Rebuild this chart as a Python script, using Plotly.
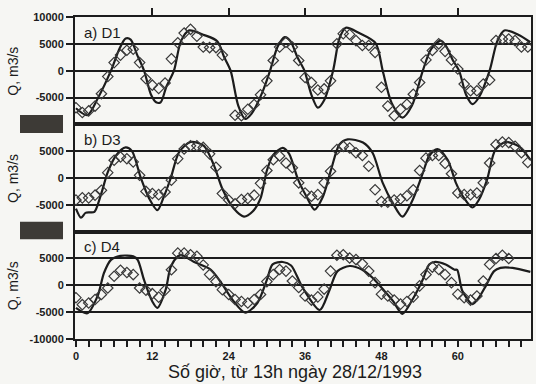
import plotly.graph_objects as go
from plotly.subplots import make_subplots

# ---------------- data ----------------
hours = list(range(72))

obs_d1 = [-6900, -7800, -7500, -6600, -4300, -1100, 1500, 2900, 3800, 4000,
          1500, -1500, -2700, -3300, -2300, 2200, 5200, 7000, 7700, 6400,
          4400, 4300, 4300, 2900, None, -8300, -8400, -7200, -6300, -4500,
          -1900, 1900, 4400, 5300, 4400, 1900, -1250, -2200, -3600, -3400,
          -1900, 5000, 6900, 6750, 5600, 4700, 4700, 3400, -3100, -6600,
          -8400, -7200, -6250, -4400, -2200, 2000, 3750, 5000, 3600, 2000,
          300, -2500, -3750, -3750, -2500, -1750, 5600, 5900, 5900, 5600,
          4400, 4400]

obs_d3 = [-4100, -3700, -3700, -3200, -2300, 1000, 3300, 3900, 3600, 3000,
          500, -2500, -2900, -3100, -2600, -400, 3600, 5400, 6000, 6000,
          5700, 4500, 2000, -2900, -4100, -4800, -4000, -3800, -3200, -1000,
          1400, 3400, 4100, 2800, 1900, -900, -2800, -3400, -3100, -900,
          1250, 5300, 5900, 5600, 4700, 4200, 2200, -2200, -4400, -4500,
          -4100, -3900, -3300, -2200, 1400, 3700, 4200, 4200, 2700, 800,
          -2800, -3100, -3100, -2800, -900, 2800, 6250, 6700, 6600, 5900,
          4700, 2900]

obs_d4 = [-2300, -3600, -3300, -2650, -1700, -500, 1700, 2800, 2400, 2000,
          -500, -900, -1550, -2200, -900, 2900, 6000, 6000, 5700, 5400,
          3800, 2000, 700, -800, -1700, -2650, -3000, -3300, -2650, -1700,
          700, 2000, 2950, 2650, 800, -400, -2000, -2750, -2150, -700,
          2650, 5600, 5700, 5100, 4800, 4000, 2650, 500, -1650, -2000,
          -2750, -3500, -3000, -2150, -100, 2000, 3400, 2950, 2000, 500,
          -1650, -2300, -2750, -2000, 800, 3900, 5000, 5600, 5000, None,
          None, None]

mod_d1_h = [0, 1.8, 3.5, 5.5, 6.8, 7.8, 8.6, 9.6, 10.7, 11.8, 12.6, 13.3, 14.2,
            15.4, 16.5, 17.8, 20, 22.2, 23.3, 24.3, 25.5, 26.6, 27.6, 29.3,
            30.5, 31.7, 32.8, 33.7, 34.8, 35.9, 37, 38, 39, 40.4, 41.4, 42.4,
            44.5, 47.1, 48.2, 49.6, 51.3, 52.8, 54.5, 55.8, 57.3, 58.2, 59.2,
            60.2, 61.3, 62.3, 63.3, 65, 66.2, 67.3, 69.5, 71.4]
mod_d1_q = [-7000, -8300, -5000, 0, 4000, 6000, 5800, 3000, 0, -4500, -5900,
            -5900, -3000, 0, 5500, 7500, 6700, 5500, 2500, 0, -6500, -9000,
            -8000, -4000, 0, 4500, 6250, 5500, 2500, 0, -4500, -6900, -5500,
            0, 6000, 8000, 7000, 5100, 0, -6000, -8750, -6500, 0, 4000, 5600,
            4500, 2000, 0, -4500, -6250, -5000, 0, 5500, 7500, 6700, 5300]

mod_d3_h = [0, 0.8, 1.5, 2.2, 2.9, 3.9, 5, 6.3, 7.8, 8.8, 10.2, 11.5, 12.8,
            13.8, 14.9, 16.2, 18, 20.1, 21.7, 23, 24.8, 26.4, 27.8, 29, 30,
            31, 32.5, 33.5, 34.9, 36.2, 37.5, 38.8, 40.1, 41.4, 42.7, 45.1,
            46.6, 48.2, 49.8, 51.3, 52.9, 54.5, 55.5, 56.8, 58.4, 59.7, 60.8,
            62.3, 63.3, 64.6, 65.9, 67.5, 69.6, 71.4]
mod_d3_q = [-5700, -7400, -6500, -6400, -6300, -3200, 1100, 4200, 5700, 5000,
            0, -3800, -6000, -3500, 0, 4800, 6700, 6000, 2300, -2000, -5700,
            -7200, -6200, -3800, 1400, 4300, 5600, 4500, -300, -3400, -5900,
            -3500, 1600, 6250, 7200, 6600, 4700, -900, -4700, -7200, -4100,
            900, 4100, 5400, 3400, -900, -3400, -5500, -4100, -300, 5300,
            6700, 5900, 3400]

mod_d4_h = [0, 1.8, 3.4, 4.4, 5.5, 7, 9, 9.7, 10.7, 12, 12.8, 14.1, 14.9, 16,
            16.5, 18.5, 21.2, 22.7, 24.8, 26.6, 28.5, 30, 30.9, 32.5, 33.8,
            35.6, 38.3, 39.8, 41.1, 43, 45, 46.6, 48.2, 49.8, 51.3, 52.9, 54.5,
            55.5, 56.3, 58.1, 59.5, 59.9, 60.7, 62.3, 63.3, 64.4, 65.7, 66.7,
            68.6, 71.4]
mod_d4_q = [-4200, -5200, -2000, 2300, 4750, 5500, 5400, 4750, 1000, -3000,
            -4200, -800, 3500, 5400, 5700, 4400, 2900, 700, -3000, -5100,
            -3300, 1000, 3900, 4350, 3700, -400, -4600, -1000, 2650, 3600,
            2900, 1400, -700, -2900, -5300, -2600, 1100, 3900, 4350, 3900,
            2900, 2900, -1000, -3500, -2300, -100, 2650, 3250, 3250, 2500]

panel_labels = ["a) D1", "b) D3", "c) D4"]
x_ticks = [0, 12, 24, 36, 48, 60]
x_title = "Số giờ, từ 13h ngày 28/12/1993"
y_title = "Q, m3/s"

# ---------------- figure ----------------
FONT = "Liberation Sans, Arial, sans-serif"
INK = "#1c1c1c"
BG = "#f6f6f3"

fig = make_subplots(rows=3, cols=1, shared_xaxes=True, vertical_spacing=0)

models = [(mod_d1_h, mod_d1_q), (mod_d3_h, mod_d3_q), (mod_d4_h, mod_d4_q)]
obs = [obs_d1, obs_d3, obs_d4]

for i in range(3):
    mh, mq = models[i]
    fig.add_trace(go.Scatter(x=mh, y=mq, mode="lines",
                             line=dict(color=INK, width=2.2, shape="spline", smoothing=0.8),
                             showlegend=False, hoverinfo="skip"), row=i + 1, col=1)
    fig.add_trace(go.Scatter(x=hours, y=obs[i], mode="markers",
                             marker=dict(symbol="diamond-open", size=8,
                                         color="#3a3a3a", line=dict(width=1.2)),
                             showlegend=False, hoverinfo="skip"), row=i + 1, col=1)

# dummy trace for top tick axis
fig.add_trace(go.Scatter(x=[None], y=[None], xaxis="x4", yaxis="y", showlegend=False))

TICKFONT = dict(family=FONT, size=11, color=INK, weight="bold")

yt = [[-5000, 0, 5000, 10000], [-5000, 0, 5000], [-10000, -5000, 0, 5000]]
for i in range(3):
    fig.update_yaxes(range=[-10000, 10000], tickvals=yt[i],
                     ticktext=[str(v) for v in yt[i]],
                     showgrid=True, gridcolor=INK, gridwidth=1.6,
                     showline=True, linecolor=INK, linewidth=2, mirror=True,
                     ticks="outside", ticklen=7, tickwidth=1.6, tickcolor=INK,
                     zeroline=False, automargin=False,
                     tickfont=TICKFONT,
                     row=i + 1, col=1)

XR = [-0.15, 71.5]
for i in range(3):
    fig.update_xaxes(range=XR, showgrid=False, zeroline=False, automargin=False,
                     showline=True, linecolor=INK, linewidth=2, mirror=True,
                     row=i + 1, col=1)
fig.update_xaxes(tickvals=x_ticks, ticktext=[str(v) for v in x_ticks],
                 ticks="outside", ticklen=6, tickwidth=1.6, tickcolor=INK,
                 minor=dict(dtick=2, tick0=0, ticks="outside", ticklen=6,
                            tickwidth=1.6, tickcolor=INK),
                 tickfont=TICKFONT,
                 row=3, col=1)

fig.update_layout(
    xaxis4=dict(overlaying="x", side="top", anchor="y", range=XR,
                tickvals=x_ticks[1:], ticks="outside", ticklen=8, tickwidth=1.6,
                tickcolor=INK, showticklabels=False, showgrid=False,
                zeroline=False, showline=False, automargin=False),
    width=536, height=384,
    margin=dict(l=75, r=5, t=17, b=45),
    paper_bgcolor=BG, plot_bgcolor=BG,
    showlegend=False,
)

# panel labels and per-panel y titles
for i, lab in enumerate(panel_labels):
    yref = "y domain" if i == 0 else f"y{i + 1} domain"
    xref = "x domain" if i == 0 else f"x{i + 1} domain"
    fig.add_annotation(text=lab, xref=xref, yref=yref, x=0.015, y=0.86,
                       xanchor="left", yanchor="middle", showarrow=False,
                       font=dict(family=FONT, size=15, color=INK))
    fig.add_annotation(text=y_title, xref="paper", yref=yref, x=-0.136, y=0.5,
                       xanchor="center", yanchor="middle", textangle=-90,
                       showarrow=False, font=dict(family=FONT, size=14, color=INK))

# x title
fig.add_annotation(text=x_title, xref="paper", yref="paper", x=0.482, y=-0.1025,
                   xanchor="center", yanchor="middle", showarrow=False,
                   font=dict(family=FONT, size=18, color=INK))

# dark scan patches covering boundary tick labels
for y0, y1 in [(0.640, 0.696), (0.310, 0.364)]:
    fig.add_shape(type="rect", xref="paper", yref="paper",
                  x0=-0.1206, x1=-0.0263, y0=y0, y1=y1,
                  fillcolor="#3d3a36", line=dict(width=0), layer="above")

fig.write_html("out.html",
               config={"displayModeBar": False},
               post_script="document.body.style.margin='0px';"
                           "document.body.style.overflow='hidden';")
